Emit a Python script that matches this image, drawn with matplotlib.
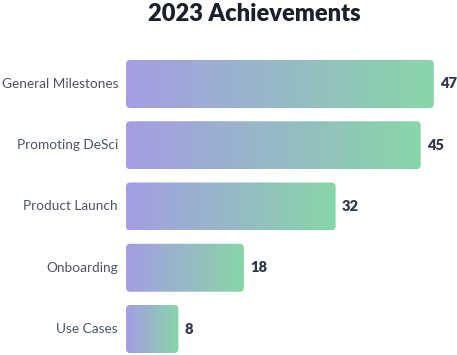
import numpy as np
import matplotlib
matplotlib.use("Agg")
import matplotlib.pyplot as plt
from matplotlib.patches import FancyBboxPatch

# === Data ===
categories = ["General Milestones", "Promoting DeSci", "Product Launch", "Onboarding", "Use Cases"]
values = [47, 45, 32, 18, 8]

# gradient end colours
c_left = np.array([0xa4, 0x9d, 0xe4]) / 255
c_right = np.array([0x88, 0xd6, 0xa8]) / 255

W, H = 457, 355
fig = plt.figure(figsize=(W / 100, H / 100), dpi=100)
fig.patch.set_facecolor("white")

# axes placed in pixels: left edge at bar start
ax_left, ax_top, ax_bot = 126, 55, 355
ax = fig.add_axes([ax_left / W, 0, 1 - ax_left / W, (H - ax_top) / H])
ax.set_facecolor("none")

px_x = 6.55    # px per value unit
px_y = 61.25   # px per category step
ax.set_xlim(0, (W - ax_left) / px_x)
ax.set_ylim((ax_bot - 84) / px_y, (ax_top - 84) / px_y)

bar_h = 48 / px_y
aspect = (1 / px_y) / (1 / px_x)
grad = np.linspace(0, 1, 256)
img = (c_left[None, :] * (1 - grad[:, None]) + c_right[None, :] * grad[:, None])[None, :, :]

for i, (cat, v) in enumerate(zip(categories, values)):
    y0 = i - bar_h / 2
    patch = FancyBboxPatch((0, y0), v, bar_h,
                           boxstyle="round,pad=0,rounding_size=0.65",
                           mutation_aspect=aspect, lw=0, fc="none")
    ax.add_patch(patch)
    im = ax.imshow(img, extent=(0, v, y0 + bar_h, y0), aspect="auto",
                   interpolation="bilinear", zorder=2)
    im.set_clip_path(patch)
    ax.text(v + 6 / px_x, i, str(v), va="center", ha="left",
            fontsize=10.5, fontweight="heavy", color="#2d3748", family="Lato")
    fig.text((ax_left - 8) / W, 1 - (84 + px_y * i) / H, cat, ha="right", va="center",
             fontsize=9.8, color="#4a5568", family="Lato")

ax.set_xlim(0, (W - ax_left) / px_x)
ax.set_ylim((ax_bot - 84) / px_y, (ax_top - 84) / px_y)
ax.axis("off")

fig.text(254 / W, 1 - 14 / H, "2023 Achievements", ha="center", va="center",
         fontsize=17, fontweight="heavy", color="#1a202c", family="Lato")

fig.savefig("out.png", dpi=100)
